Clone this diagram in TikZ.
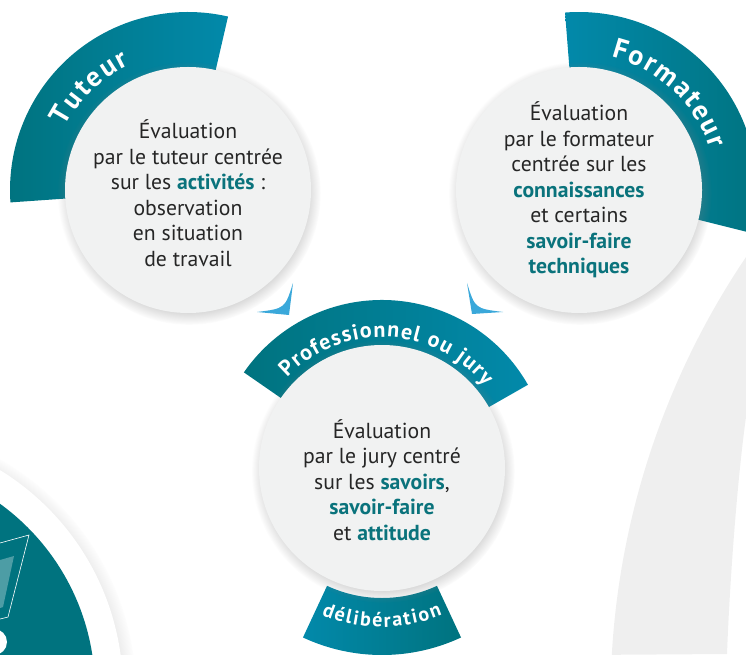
\documentclass[tikz,border=0pt]{standalone}
\usepackage{fontspec}
\setmainfont{PT Sans}
\usetikzlibrary{decorations.text, shadows}
\definecolor{tealdark}{HTML}{00737F}
\definecolor{tealblue}{HTML}{0289AA}
\definecolor{tealtxt}{HTML}{0A737C}
\definecolor{bubblegray}{HTML}{F1F2F2}
\definecolor{pointerblue}{HTML}{3AA8DA}
\definecolor{ringgray}{HTML}{EFEFEF}
\newcommand{\motcle}[1]{\textcolor{tealtxt}{\textbf{#1}}}
% bandeau{centre}{angle debut}{angle fin}{rayon int}{rayon ext}{style}
\newcommand{\bandeau}[6]{\path[#6] ([shift={(#1)}]#2:#5) arc[start angle=#2, end angle=#3, radius=#5] -- ([shift={(#1)}]#3:#4) arc[start angle=#3, end angle=#2, radius=#4] -- cycle;}
% titre{texte}{taille}{espacement}
\tikzset{titre/.style n args={3}{decorate, decoration={text effects along path, text={#1}, text align=center,
  text effects/.cd, text along path, characters={text=white, font=\bfseries\fontsize{#2}{#2}\selectfont},
  character widths={inner xsep=#3, font=\bfseries\fontsize{#2}{#2}\selectfont}}}}
\tikzstyle{bubble} = [circle, minimum size=246pt, inner sep=0pt, fill=bubblegray, circular drop shadow={shadow xshift=1pt, shadow yshift=-3pt, shadow scale=1.07, opacity=0.45}]
\tikzstyle{bodytext} = [align=center, font=\fontsize{21.7}{25.5}\selectfont, text=black!85]
\tikzstyle{pointer} = [fill=pointerblue]
\tikzstyle{bandlr} = [left color=tealdark, right color=tealblue]
\tikzstyle{bandrl} = [left color=tealblue, right color=tealdark]

\begin{document}
\begin{tikzpicture}[x=1pt, y=1pt]
\useasboundingbox (0,0) rectangle (746,654);
\clip (0,0) rectangle (746,654);
\coordinate (ctut) at (188,464);
\coordinate (cform) at (579,464);
\coordinate (cjury) at (382,186);
\coordinate (cbadge) at (-135,-36);

% arc gris a droite
\fill[ringgray] (746,397) arc[start angle=146, end angle=176.7, radius=793pt] -- (727,0) .. controls (730,80) and (738,180) .. (746,237) -- cycle;

% pastille en bas a gauche
\node (badge) [circle, minimum size=516pt, fill=white, circular drop shadow={shadow xshift=3pt, shadow yshift=-2pt, shadow scale=1.04, opacity=0.4}] at (cbadge) {};
\node (badgein) [circle, minimum size=460pt, fill=tealdark] at (cbadge) {};
\fill[white, opacity=0.3] (0,94) -- (14,98) -- (3,47) -- (0,46) -- cycle;
\draw[white, line width=0.6pt] (0,111) -- (29,119) -- (8,37) -- (0,35);
\fill[white] (-6,12) circle[radius=13pt];

% bandeaux
\bandeau{ctut}{77}{184}{118pt}{178pt}{bandlr}
\bandeau{cform}{-14}{94.5}{118pt}{178pt}{bandrl}
\bandeau{cjury}{29.7}{145.3}{115pt}{168pt}{bandlr}
\bandeau{cjury}{245}{295}{130pt}{187pt}{bandrl}

% bulles
\node (tuteur) [bubble] at (ctut) {};
\node (formateur) [bubble] at (cform) {};
\node (jury) [bubble] at (cjury) {};

% pointes
\fill[pointer] (257,342) .. controls (285,345.5) .. (293,371) -- (289,339) -- cycle;
\fill[pointer] (503,342) .. controls (475,345.5) .. (467,371) -- (472,340) -- cycle;

% titres des bandeaux
\path[titre={Tuteur}{28}{1.1pt}] ([shift={(ctut)}]184:138pt) arc[start angle=184, end angle=84, radius=138pt];
\path[titre={Formateur}{28}{1pt}] ([shift={(cform)}]102:137pt) arc[start angle=102, end angle=-8, radius=137pt];
\path[titre={Professionnel ou jury}{22}{0.6pt}] ([shift={(cjury)}]162:131pt) arc[start angle=162, end angle=13, radius=131pt];
\path[titre={délibération}{20}{0.9pt}] ([shift={(cjury)}]220:159pt) arc[start angle=220, end angle=320, radius=159pt];

% textes
\node (tuteurtxt) [bodytext] at ([yshift=-3pt]tuteur) {Évaluation\\par le tuteur centrée\\sur les \motcle{activités} :\\observation\\en situation\\de travail};
\node (formateurtxt) [bodytext] at ([yshift=0pt]formateur) {Évaluation\\par le formateur\\centrée sur les\\\motcle{connaissances}\\et certains\\\motcle{savoir-faire}\\\motcle{techniques}};
\node (jurytxt) [bodytext] at ([yshift=-12pt]jury) {Évaluation\\par le jury centré\\sur les \motcle{savoirs},\\\motcle{savoir-faire}\\et \motcle{attitude}};
\end{tikzpicture}
\end{document}
